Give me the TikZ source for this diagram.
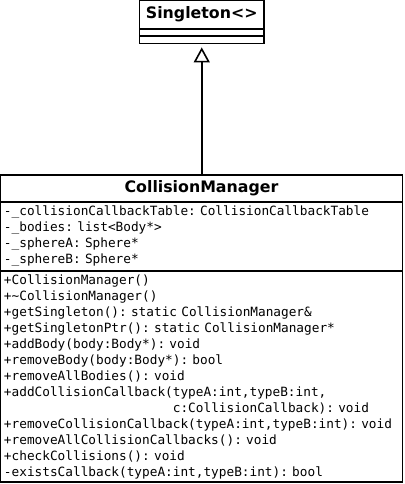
\documentclass[tikz,border=0pt]{standalone}
\usepackage{fontspec}
\setsansfont{DejaVu Sans}
\setmonofont{DejaVu Sans Mono}
\usetikzlibrary{positioning,arrows.meta}
\newcommand\umlmono{\ttfamily\fontsize{12.75}{16}\selectfont
  \frenchspacing\setlength{\spaceskip}{0.602em}}
\tikzset{
  umlbox/.style = {draw=black, line width=1.6pt, fill=white, outer sep=0pt,
    inner sep=0pt},
  umltitle/.style = {umlbox, font=\sffamily\bfseries\fontsize{15.8}{19}\selectfont},
  umlmembers/.style = {umlbox, align=left, inner xsep=3.5pt, text width=395pt,
    minimum width=402pt, font=\umlmono},
  umlempty/.style = {umlbox, minimum width=124.5pt, minimum height=7.2pt},
  inherit/.style = {-{Triangle[open, length=15pt, width=16pt]}, line width=1.6pt}
    % generalisation arrow
}

\begin{document}
\begin{tikzpicture}[x=1pt,y=-1pt]
\useasboundingbox (0,0) rectangle (404,484);
% base class
\node[umltitle, minimum width=124.5pt, minimum height=29pt] (single) at (201.75,14.5) {Singleton<>};
\node[umlempty, below=0pt of single] (singleAttr) {};
\node[umlempty, below=0pt of singleAttr] (singleOps) {};
% derived class
\node[umltitle, minimum width=402pt, minimum height=27pt] (cm) at (201.5,188.5) {CollisionManager};
\node[umlmembers, minimum height=69pt, below=0pt of cm] (cmAttr) {%
-\_collisionCallbackTable: CollisionCallbackTable\\
-\_bodies: list<Body*>\\
-\_sphereA: Sphere*\\
-\_sphereB: Sphere*};
\node[umlmembers, minimum height=211pt, below=0pt of cmAttr] (cmOps) {%
+CollisionManager()\\
+\textasciitilde CollisionManager()\\
+getSingleton(): static CollisionManager\&\\
+getSingletonPtr(): static CollisionManager*\\
+addBody(body:Body*): void\\
+removeBody(body:Body*): bool\\
+removeAllBodies(): void\\
+addCollisionCallback(typeA:int,typeB:int,\\
\phantom{+addCollisionCallback(}c:CollisionCallback): void\\
+removeCollisionCallback(typeA:int,typeB:int): void\\
+removeAllCollisionCallbacks(): void\\
+checkCollisions(): void\\
-existsCallback(typeA:int,typeB:int): bool};
\draw[inherit, shorten >=4pt] (cm.north -| singleOps.south) -- (singleOps.south);
\end{tikzpicture}
\end{document}
